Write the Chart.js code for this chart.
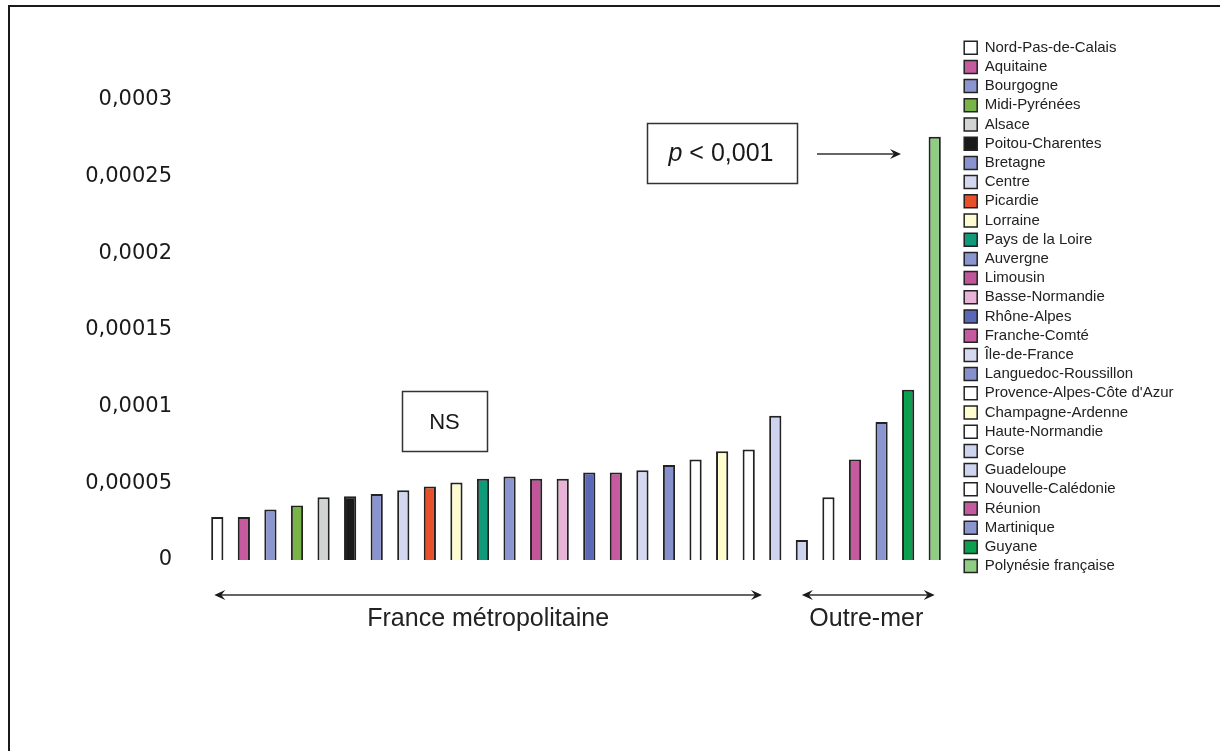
<!DOCTYPE html>
<html lang="fr">
<head>
<meta charset="utf-8">
<title>Régions</title>
<script src="https://cdn.jsdelivr.net/npm/chart.js@4.4.1/dist/chart.umd.min.js"></script>
<style>
  html, body { margin: 0; padding: 0; background: #fff; }
  #wrap { position: relative; width: 1220px; height: 751px; }
</style>
</head>
<body>
<div id="wrap"><canvas id="chart"></canvas></div>
<script>
// Régions, dans l'ordre du graphique
const regions = [
  'Nord-Pas-de-Calais', 'Aquitaine', 'Bourgogne', 'Midi-Pyrénées', 'Alsace',
  'Poitou-Charentes', 'Bretagne', 'Centre', 'Picardie', 'Lorraine',
  'Pays de la Loire', 'Auvergne', 'Limousin', 'Basse-Normandie', 'Rhône-Alpes',
  'Franche-Comté', 'Île-de-France', 'Languedoc-Roussillon', "Provence-Alpes-Côte d'Azur",
  'Champagne-Ardenne', 'Haute-Normandie', 'Corse', 'Guadeloupe', 'Nouvelle-Calédonie',
  'Réunion', 'Martinique', 'Guyane', 'Polynésie française'
];

// Valeurs
const valeurs = [
  0.000028, 0.000028, 0.000033, 0.0000355, 0.000041,
  0.0000415, 0.000043, 0.0000455, 0.000048, 0.0000505,
  0.000053, 0.0000545, 0.000053, 0.000053, 0.000057,
  0.000057, 0.0000585, 0.000062, 0.0000655, 0.000071,
  0.000072, 0.000094, 0.000013, 0.000041, 0.0000655,
  0.00009, 0.000111, 0.000276
];

const couleurs = [
  '#ffffff', '#c65a9f', '#8b95d0', '#79b446', '#d2d4d4',
  '#1a1a1a', '#8a93cf', '#d2d6ef', '#e8502b', '#fefbd0',
  '#0f9a79', '#8b95d0', '#c2559a', '#e9b3d8', '#5b68b8',
  '#c65a9f', '#d4d8f0', '#8590cc', '#ffffff', '#fffcce',
  '#ffffff', '#ced3ef', '#ced3ef', '#ffffff', '#c65a9f',
  '#8b95d0', '#0aa04f', '#8fcd82'
];

const yTicks = [0, 0.00005, 0.0001, 0.00015, 0.0002, 0.00025, 0.0003];
const yTickLabels = ['0', '0,00005', '0,0001', '0,00015', '0,0002', '0,00025', '0,0003'];

const nbMetropole = 22;

const policeTexte = "'Liberation Sans', Arial, sans-serif";
Chart.defaults.font.family = policeTexte;
Chart.defaults.color = '#1a1a1a';

// Largeur de la légende pour la caler à droite du graphique
const mesure = document.createElement('canvas').getContext('2d');
mesure.font = '15px ' + policeTexte;
const texteMax = Math.max(...regions.map(r => mesure.measureText(r).width));
const largeurLegende = 4.2 + 13 + 7.5 + texteMax + 10;
const padDroite = Math.max(0, 1220 - 960 - largeurLegende);

function fleche(ctx, x, y, sens) {
  // pointe de flèche, sens = 1 vers la droite, -1 vers la gauche
  ctx.beginPath();
  ctx.moveTo(x, y);
  ctx.lineTo(x - sens * 11, y - 5);
  ctx.lineTo(x - sens * 7, y);
  ctx.lineTo(x - sens * 11, y + 5);
  ctx.closePath();
  ctx.fill();
}

const annotations = {
  id: 'annotations',
  afterDraw(chart) {
    const ctx = chart.ctx;
    const x = chart.scales.x;
    ctx.save();
    ctx.strokeStyle = '#1a1a1a';
    ctx.fillStyle = '#1a1a1a';

    // cadre
    ctx.lineWidth = 2;
    ctx.beginPath();
    ctx.moveTo(9, 751);
    ctx.lineTo(9, 6);
    ctx.lineTo(1220, 6);
    ctx.stroke();

    // encadré NS
    ctx.lineWidth = 1.5;
    ctx.strokeStyle = '#333';
    ctx.strokeRect(402.5, 391.5, 85, 60);
    ctx.font = '22px ' + policeTexte;
    ctx.textAlign = 'center';
    ctx.textBaseline = 'alphabetic';
    ctx.fillText('NS', 444.5, 428.5);

    // encadré p < 0,001
    ctx.strokeRect(647.5, 123.5, 150, 60);
    ctx.textAlign = 'left';
    ctx.font = 'italic 25px ' + policeTexte;
    const wp = ctx.measureText('p').width;
    ctx.font = '25px ' + policeTexte;
    const reste = ' < 0,001';
    const wr = ctx.measureText(reste).width;
    const x0 = 721 - (wp + wr) / 2;
    ctx.font = 'italic 25px ' + policeTexte;
    ctx.fillText('p', x0, 161);
    ctx.font = '25px ' + policeTexte;
    ctx.fillText(reste, x0 + wp, 161);

    // flèche vers la Polynésie
    ctx.lineWidth = 1.5;
    ctx.beginPath();
    ctx.moveTo(817, 154);
    ctx.lineTo(896, 154);
    ctx.stroke();
    fleche(ctx, 901, 154, 1);

    // flèches du bas
    const yF = 595;
    const a1 = x.getPixelForValue(0) - 3;
    const a2 = (x.getPixelForValue(nbMetropole - 2) + x.getPixelForValue(nbMetropole - 1)) / 2;
    const b1 = x.getPixelForValue(nbMetropole);
    const b2 = x.getPixelForValue(regions.length - 1);
    ctx.beginPath();
    ctx.moveTo(a1 + 4, yF); ctx.lineTo(a2 - 4, yF);
    ctx.moveTo(b1 + 4, yF); ctx.lineTo(b2 - 4, yF);
    ctx.stroke();
    fleche(ctx, a1, yF, -1);
    fleche(ctx, a2, yF, 1);
    fleche(ctx, b1, yF, -1);
    fleche(ctx, b2, yF, 1);

    ctx.textAlign = 'center';
    ctx.font = '25px ' + policeTexte;
    ctx.fillStyle = '#222';
    ctx.fillText('France métropolitaine', (a1 + a2) / 2, 626);
    ctx.fillText('Outre-mer', (b1 + b2) / 2 - 2, 626);
    ctx.restore();
  }
};

const ctx = document.getElementById('chart').getContext('2d');
const graphique = new Chart(ctx, {
  type: 'bar',
  data: {
    labels: regions,
    datasets: [{
      data: valeurs,
      backgroundColor: couleurs,
      borderColor: '#222',
      borderWidth: 2,
      barPercentage: 0.46,
      categoryPercentage: 1
    }]
  },
  options: {
    responsive: true,
    maintainAspectRatio: false,
    animation: false,
    layout: { padding: { top: 36, left: 0, right: padDroite, bottom: 0 } },
    plugins: {
      tooltip: { enabled: false },
      legend: {
        display: true,
        position: 'right',
        align: 'start',
        onClick: null,
        labels: {
          boxWidth: 13,
          boxHeight: 13,
          padding: 4.2,
          color: '#222',
          font: { size: 15 },
          generateLabels: () => regions.map((r, i) => ({
            text: r,
            fillStyle: couleurs[i],
            strokeStyle: '#222',
            lineWidth: 1.5,
            fontColor: '#222',
            hidden: false,
            index: i,
            datasetIndex: 0
          }))
        }
      }
    },
    scales: {
      x: {
        type: 'category',
        position: 'bottom',
        grid: { display: false, drawTicks: false },
        border: { display: false },
        ticks: { display: false },
        afterFit: s => { s.height = 191; }
      },
      xHaut: {
        type: 'category',
        position: 'top',
        grid: { display: false, drawTicks: false },
        border: { display: false },
        ticks: { display: false },
        afterFit: s => { s.height = 64; }
      },
      y: {
        min: 0,
        max: 0.0003,
        grid: { display: false, drawTicks: false, tickLength: 0 },
        border: { display: false },
        afterBuildTicks: s => { s.ticks = yTicks.map(v => ({ value: v })); },
        afterFit: s => { s.width = 204; },
        ticks: {
          padding: 32,
          color: '#1a1a1a',
          font: { family: "'DejaVu Sans', sans-serif", size: 21 },
          callback: (v, i) => yTickLabels[i]
        }
      },
      yDroite: {
        type: 'linear',
        position: 'right',
        display: false,
        afterFit: s => { s.width = 12; }
      }
    }
  },
  plugins: [annotations]
});
</script>
</body>
</html>
